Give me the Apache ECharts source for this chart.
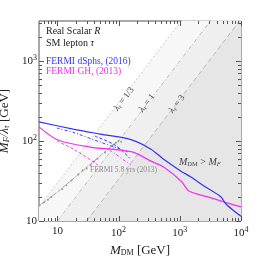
<!DOCTYPE html>
<html><head><meta charset="utf-8">
<script src="https://cdn.jsdelivr.net/npm/echarts@6/dist/echarts.min.js"></script>
<style>html,body{margin:0;padding:0;background:#fff}#c{width:262px;height:259px}</style>
</head><body><div id="c"></div>
<script>
// ---- data ----
const xMajorTicks = [10, 100, 1000, 10000];
const xMinorTicks = [6,7,8,9,20,30,40,50,60,70,80,90,200,300,400,500,600,700,800,900,2000,3000,4000,5000,6000,7000,8000,9000];
const yMajorTicks = [10, 100, 1000];
const yMinorTicks = [20,30,40,50,60,70,80,90,200,300,400,500,600,700,800,900,2000,3000];
const fermiDsphs = [[5,173],[18,141],[50,122],[159,104],[338,79],[531,60],[1045,42],[1523,35.5],[2485,27.4],[4710,20],[5680,16.3],[8900,12.2],[10000,11.5]];
const fermiGH = [[5,150],[10.2,103],[34,84],[166,73],[338,56],[551,47],[1045,31.6],[1413,23.7],[2880,20],[5270,17.3],[10000,15]];
const dsphsDash1 = [[9.8,145],[19.4,126],[49.6,97],[142,73]];
const dsphsDash2 = [[41,115],[87,89],[152,61]];
const ghDash1 = [[9.8,100],[19.4,77],[46,50]];
const ghDash2 = [[72,77],[159,50]];
const fermi58 = [[5,15.4],[10,23],[20,36],[50,65],[97,100]];
const fermi58Marks = [[6,17],[7,18.5],[8,20],[12,25],[14,28],[17,32],[22,38],[26,43],[30,45],[35,50],[40,56],[45,60],[60,72],[70,80],[80,88],[90,95],[100,100],[110,98]];
const lam13 = [[5,15],[10000,30000]];
const lam1 = [[10,10],[10000,10000]];
const lam3 = [[30,10],[10000,3333.3]];

const SERIF = "'Liberation Serif', 'DejaVu Serif', serif";
const chart = echarts.init(document.getElementById('c'), null, {renderer:'canvas'});

function supFmt(v){
  const e = Math.round(Math.log10(v));
  if (Math.abs(Math.log10(v) - e) > 1e-6) return '';
  if (e === 1) return '10';
  return '10{sup|' + e + '}';
}
const labelRich = {sup:{fontSize:8, fontFamily:SERIF, color:'#222', padding:[0,0,7,0]}};

function tickSeries(vals, axis, len){
  return {
    type:'custom', silent:true, clip:false, z:20,
    data: vals.map(v => axis==='x' ? [v, 10] : [5, v]),
    renderItem: function(params, api){
      const cs = params.coordSys;
      const p = api.coord([api.value(0), api.value(1)]);
      const st = {stroke:'#555', lineWidth:1};
      if (axis==='x'){
        const x = Math.round(p[0]) + 0.5;
        return {type:'group', children:[
          {type:'line', shape:{x1:x, y1:cs.y+cs.height, x2:x, y2:cs.y+cs.height-len}, style:st},
          {type:'line', shape:{x1:x, y1:cs.y, x2:x, y2:cs.y+len}, style:st}
        ]};
      } else {
        const y = Math.round(p[1]) + 0.5;
        return {type:'group', children:[
          {type:'line', shape:{x1:cs.x, y1:y, x2:cs.x+len, y2:y}, style:st},
          {type:'line', shape:{x1:cs.x+cs.width, y1:y, x2:cs.x+cs.width-len, y2:y}, style:st}
        ]};
      }
    }
  };
}

function areaLine(data, fill, lineColor, dash){
  return {type:'line', data:data, symbol:'none', silent:true, z:1,
    lineStyle:{color:lineColor, width:1, type:dash},
    areaStyle:{color:fill, opacity:1, origin:'start'}};
}
function curve(data, color, type, width){
  return {type:'line', data:data, symbol:'none', smooth:0.3, silent:true, z:5,
    lineStyle:{color:color, width:width, type:type}};
}
const lamRich = {i:{fontStyle:'italic', fontFamily:SERIF, fontSize:9, fill:'#444'}, s:{fontStyle:'italic', fontFamily:SERIF, fontSize:6, fill:'#444', padding:[4,0,0,0]}};
const ROT = 52.6*Math.PI/180;

chart.setOption({
  animation:false,
  grid:{left:39, right:21, top:21, bottom:38, outerBoundsMode:'none', containLabel:false, show:true, borderColor:'#555', borderWidth:1, backgroundColor:'#fff'},
  xAxis:{type:'log', logBase:10, min:5, max:10000,
    axisLine:{show:false}, axisTick:{show:false}, splitLine:{show:false}, minorTick:{show:false},
    axisLabel:{formatter:supFmt, rich:labelRich, fontFamily:SERIF, fontSize:11, color:'#222', margin:5, showMinLabel:false},
    name:'{i|M}{sub|DM} [GeV]', nameLocation:'middle', nameGap:16,
    nameTextStyle:{fontFamily:SERIF, fontSize:13, color:'#222',
      rich:{i:{fontStyle:'italic', fontFamily:SERIF, fontSize:13, color:'#222'},
            sub:{fontFamily:SERIF, fontSize:8, color:'#222', padding:[6,0,0,0]}}}
  },
  yAxis:{type:'log', logBase:10, min:10, max:3162.3,
    axisLine:{show:false}, axisTick:{show:false}, splitLine:{show:false}, minorTick:{show:false},
    axisLabel:{formatter:supFmt, rich:labelRich, fontFamily:SERIF, fontSize:11, color:'#222', margin:2, showMaxLabel:false},
    name:'{i|M}{sub|F}{i|/λ}{sub|τ} [GeV]', nameLocation:'middle', nameGap:22, nameRotate:90,
    nameTextStyle:{fontFamily:SERIF, fontSize:13, color:'#222',
      rich:{i:{fontStyle:'italic', fontFamily:SERIF, fontSize:13, color:'#222'},
            sub:{fontStyle:'italic', fontFamily:SERIF, fontSize:8, color:'#222', padding:[6,0,0,0]}}}
  },
  series:[
    areaLine(lam13, '#f7f7f7', '#c8c8c8', [2,2]),
    areaLine(lam1, '#efefef', '#bcbcbc', [4,2,1,2]),
    areaLine(lam3, '#e6e6e6', '#b8b8b8', [5,3]),
    {type:'line', data:fermi58, symbol:'none', silent:true, z:4, lineStyle:{color:'#9a9a9a', width:1, type:[3,1,1,1]}},
    {type:'scatter', data:fermi58Marks, symbol:'circle', symbolSize:2, silent:true, z:4, itemStyle:{color:'#888'}},
    curve(dsphsDash1, '#4040f0', [3,2,1,2], 1),
    curve(dsphsDash2, '#4040f0', [3,2], 1),
    curve(ghDash1, '#f040f0', [3,2], 1),
    curve(ghDash2, '#f040f0', [3,2,1,2], 1),
    curve(fermiGH, '#f030f0', 'solid', 1.2),
    curve(fermiDsphs, '#3535f0', 'solid', 1.2),
    tickSeries(xMajorTicks, 'x', 5),
    tickSeries(xMinorTicks, 'x', 3),
    tickSeries(yMajorTicks, 'y', 5),
    tickSeries(yMinorTicks, 'y', 3)
  ],
  graphic:[
    {type:'text', z:100, x:46, y:31, style:{text:'Real Scalar {i|R}', fontFamily:SERIF, fontSize:10, fill:'#222', verticalAlign:'middle',
      rich:{i:{fontStyle:'italic', fontFamily:SERIF, fontSize:10, fill:'#222'}}}},
    {type:'text', z:100, x:46, y:43, style:{text:'SM lepton {i|τ}', fontFamily:SERIF, fontSize:10, fill:'#222', verticalAlign:'middle',
      rich:{i:{fontStyle:'italic', fontFamily:SERIF, fontSize:10, fill:'#222'}}}},
    {type:'text', z:100, x:46, y:61, style:{text:'FERMI dSphs, (2016)', fontFamily:SERIF, fontSize:9.5, fill:'#3535f0', verticalAlign:'middle'}},
    {type:'text', z:100, x:46, y:71, style:{text:'FERMI GH, (2013)', fontFamily:SERIF, fontSize:9.5, fill:'#f030f0', verticalAlign:'middle'}},
    {type:'text', z:100, x:179, y:162, style:{text:'{i|M}{s|DM} > {i|M}{si|F}', fontFamily:SERIF, fontSize:10, fill:'#444', verticalAlign:'middle',
      rich:{i:{fontStyle:'italic', fontFamily:SERIF, fontSize:10, fill:'#444'}, s:{fontFamily:SERIF, fontSize:6.5, fill:'#444', padding:[4,0,0,0]}, si:{fontStyle:'italic', fontFamily:SERIF, fontSize:6.5, fill:'#444', padding:[4,0,0,0]}}}},
    {type:'text', z:100, x:90, y:170, style:{text:'FERMI 5.8 yrs (2013)', fontFamily:SERIF, fontSize:7.5, fill:'#8a8a8a', verticalAlign:'middle'}},
    {type:'text', z:100, x:124, y:99, rotation:ROT, style:{text:'{i|λ}{s|τ} = 1/3', fontFamily:SERIF, fontSize:9, fill:'#444', align:'center', verticalAlign:'middle', rich:lamRich}},
    {type:'text', z:100, x:147, y:103, rotation:ROT, style:{text:'{i|λ}{s|τ} = 1', fontFamily:SERIF, fontSize:9, fill:'#444', align:'center', verticalAlign:'middle', rich:lamRich}},
    {type:'text', z:100, x:177, y:104, rotation:ROT, style:{text:'{i|λ}{s|τ} = 3', fontFamily:SERIF, fontSize:9, fill:'#444', align:'center', verticalAlign:'middle', rich:lamRich}}
  ]
});
</script></body></html>
